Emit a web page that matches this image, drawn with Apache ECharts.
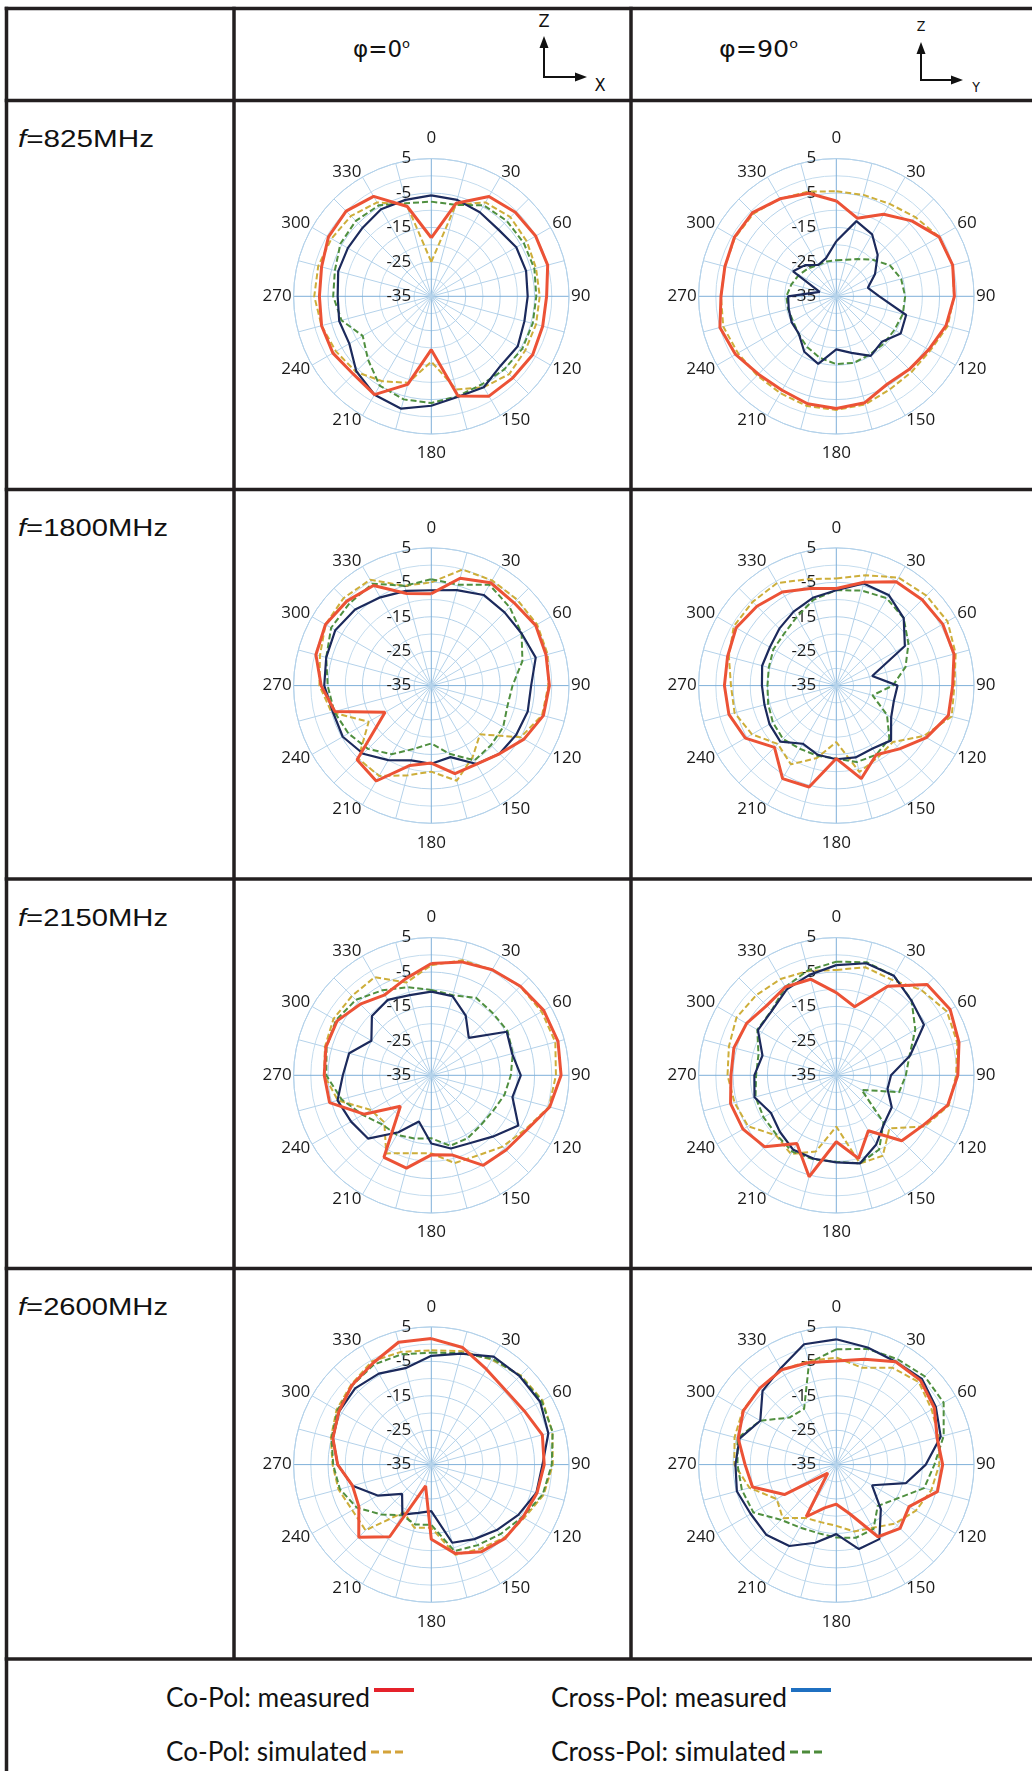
<!DOCTYPE html>
<html><head><meta charset="utf-8">
<script src="https://cdn.jsdelivr.net/npm/echarts@6/dist/echarts.min.js"></script>
<style>
html,body{margin:0;padding:0;background:#fff;width:1032px;height:1771px;overflow:hidden}
#frame{position:absolute;left:0;top:0}
#chart{position:absolute;left:0;top:0;width:1032px;height:1771px}
</style></head><body>
<svg id="frame" width="1032" height="1771" xmlns="http://www.w3.org/2000/svg"></svg>
<div id="chart"></div>
<script>
// ---------- data ----------
const angles = [0,15,30,45,60,75,90,105,120,135,150,165,180,195,210,225,240,255,270,285,300,315,330,345];
const angleLabels = ['0','30','60','90','120','150','180','210','240','270','300','330'];
const radialTicks = [-35,-25,-15,-5,5];
const rowLabels = ['825MHz','1800MHz','2150MHz','2600MHz'];
const colLabels = ['0','90'];
const legendNames = ['Co-Pol: measured','Cross-Pol: measured','Co-Pol: simulated','Cross-Pol: simulated'];

// f=825MHz, phi=0
const f825p0_coMeas   = [-18,-7,-1.5,-0.5,0,0,-1.5,-1.5,-1,-1.5,-1.5,-5,-19.5,-8.5,-2,-3,-2,-2,-2.5,-2,-0.5,0,-1.5,-8];
const f825p0_crossMeas= [-5.7,-6,-6.8,-7.5,-6.5,-6.5,-7,-7,-6,-6.5,-4.5,-4.8,-3.2,-1.2,-2,-4.2,-7.5,-7.3,-7.8,-7,-7,-6.8,-5.8,-6];
const f825p0_coSim    = [-25,-7.5,-3.5,-2.5,-3,-3.5,-3.5,-3.5,-3.5,-3,-4.5,-7,-16,-9,-6.5,-4,-3,-2,-1,-1,-1.5,-2,-3.5,-7.5];
const f825p0_crossSim = [-7.5,-7.5,-4.5,-4,-4,-4,-4.5,-4.5,-4.5,-5,-5.5,-5,-4,-4,-5,-9,-12,-8,-6.5,-6,-4.5,-4,-4.5,-7];
// f=825MHz, phi=90
const f825p90_coMeas   = [-7.3,-11.5,-7.5,-4,-0.5,0,-0.7,-2,-4,-5,-5.5,-3,-2.4,-2.7,-3.5,-3,-1.2,0,-1.5,-1.5,-0.8,-0.6,-2.3,-4];
const f825p90_crossMeas= [-19,-12.4,-14.2,-18,-22,-25.5,-22.5,-14,-13.4,-16.3,-15,-18,-19.6,-14.7,-16.4,-19.6,-20,-20.7,-21,-30,-20.5,-22.2,-24.5,-23.5];
const f825p90_coSim    = [-4.5,-4.5,-4,-2.5,-0.5,0,-0.8,-1.5,-3.5,-4,-3.8,-2.5,-2,-2,-2.5,-2.5,-2,-1,-1.5,-1.5,-1,-1,-2.3,-3.5];
const f825p90_crossSim = [-24.5,-24,-22.5,-20,-17,-15.5,-15,-15,-15.5,-15.5,-15.5,-15,-15.3,-16.5,-18,-19.5,-20.5,-20.5,-20.5,-21.5,-22.5,-23.5,-24.5,-24.5];
// f=1800MHz, phi=0
const f1800p0_coMeas   = [-8.3,-2.7,-0.5,-1,0,-0.5,-0.7,-1.3,-3.9,-7,-8.7,-8.5,-12.5,-11,-3,-4.5,-19.5,-6,-3,-0.3,0.5,-0.3,-1.4,-7.3];
const f1800p0_crossMeas= [-7.3,-6.3,-4.6,-4.9,-4.7,-3.6,-6,-6,-6.5,-7,-8.7,-13.5,-12.3,-12.5,-10,-7,-5.3,-5.4,-3.9,-3.4,-2.8,-3.7,-5.4,-6.5];
const f1800p0_coSim    = [-5,-0.1,0.3,0.3,0.5,0,-1,-1.7,-5,-15,-11,-6.4,-10,-8,-4.7,-5,-14,-5,-2.5,-1.5,0.5,1,0.5,-5];
const f1800p0_crossSim = [-4.1,-4.7,-1.2,-2.8,-4.7,-7.6,-11.4,-12.1,-10.9,-10.5,-9.9,-14.5,-18.2,-16,-12,-9,-7.2,-5.8,-4.9,-3.4,-1.4,-1.3,-0.8,-5];
// f=1800MHz, phi=90
const f1800p90_coMeas   = [-6.8,-3.9,-0.2,0.3,0.7,0.4,-1.2,-1.3,-4.8,-9,-11.8,-7,-13.8,-4.5,-3.8,-9.6,-4.5,-2.7,-2.5,-2.3,-1.4,-2.4,-3.6,-5.8];
const f1800p90_crossMeas= [-7.3,-4.3,-4.6,-7.3,-12,-24.2,-17.2,-17.7,-16.6,-12.5,-13.9,-13.4,-13.6,-14.2,-15.5,-12,-12.6,-13.4,-13.4,-12.7,-12.7,-11.6,-10.2,-8.6];
const f1800p90_coSim    = [-3.9,-1.8,1.2,2,2.3,0.9,-0.7,-0.3,-5.7,-11.8,-10.9,-9,-18.6,-13.2,-8.6,-11,-6.7,-4.4,-4.4,-2.7,-0.6,-0.6,-0.6,-3];
const f1800p90_crossSim = [-7.3,-6.4,-5.7,-7.3,-10.8,-14.2,-18.6,-24.1,-18,-13.2,-11.8,-12,-13.8,-13.9,-13.8,-13.1,-13.7,-14.5,-15,-14.7,-13.9,-13.6,-12,-9.2];
// f=2150MHz, phi=0
const f2150p0_coMeas   = [-2.5,-0.9,0.4,1.6,2.7,3.1,2.7,0.6,-3.1,-4.3,-4.8,-11,-11.9,-7.1,-7.5,-22.3,-12.4,-4.4,-3.9,-3.3,-3.4,-5.8,-8,-6];
const f2150p0_crossMeas= [-10.7,-11.2,-15,-19.6,-9.7,-10.7,-9,-10.6,-5.8,-9.8,-12.3,-13,-15.2,-21.1,-15.9,-9,-8.1,-6.8,-9.3,-10.3,-14.9,-10.6,-9.7,-10.9];
const f2150p0_coSim    = [-3,-0.4,0.4,1.5,2,2.3,1.2,0.4,-3.5,-5.7,-8.1,-8.6,-12.3,-11.6,-8.8,-15.7,-14.8,-6.9,-3.9,-3,-2.2,-2.4,-2.1,-7.1];
const f2150p0_crossSim = [-10.2,-10.9,-9,-9.6,-9.4,-10.5,-11.9,-13,-14.3,-14.6,-13.9,-13.8,-16.7,-16,-15,-14.8,-12,-8,-4.5,-3.5,-3,-4,-6.5,-8.5];
// f=2150MHz, phi=90
const f2150p90_coMeas   = [-11,-14.4,-5.1,2.3,3.2,1.9,0.3,-1.5,-5.9,-8.1,-16.4,-10,-15.7,-4.5,-12.1,-5.6,-3.7,-3.2,-4.4,-4.2,-4.9,-6.4,-5.4,-6.1];
const f2150p90_crossMeas= [-3,-1.3,-1.6,-4.2,-5.6,-12.8,-19.1,-19.6,-16.4,-15.3,-11.8,-8.5,-9.7,-9.9,-10,-11.8,-13.1,-10.4,-11.2,-12.8,-8.7,-8.5,-6.2,-4.8];
const f2150p90_coSim    = [-4.4,-2.5,-2.9,0,2.1,1.4,-0.2,-1.2,-5.3,-13.2,-8,-8.5,-20.1,-12.1,-8.6,-10.3,-5.4,-4.4,-3.4,-2.7,-1.5,-2.1,-2.7,-3.6];
const f2150p90_crossSim = [-2,-1,-1.6,-4.1,-8.5,-13,-14.8,-16.1,-26.5,-15.6,-10.1,-8.5,-9.9,-9.7,-9.4,-10.5,-10.6,-10.7,-11.7,-11.6,-8.5,-8.4,-5.4,-3.4];
// f=2600MHz, phi=0
const f2600p0_coMeas   = [1.6,0.2,-3,-4.5,-3.8,-1.6,-2.2,-3.2,-4.3,-4.7,-5.8,-8.3,-13.3,-28.6,-10.8,-5.2,-10.7,-11.3,-7.8,-5.4,-4,-2.4,-1,1.8];
const f2600p0_crossMeas= [-3.4,-1.6,1.2,1.3,1.5,0.2,-2.7,-3.4,-5.8,-8.1,-10,-11.5,-21.5,-20.5,-18.2,-23,-17,-11.3,-7.8,-5.4,-4.1,-3.7,-4.5,-6];
const f2600p0_coSim    = [-1.8,-0.9,0.2,1.7,2.3,1.4,0.3,-1.2,-3.9,-5,-6.7,-7.9,-16.7,-16,-19,-8,-8.5,-7.1,-6.3,-4.8,-3.2,-2.1,-0.4,-1.1];
const f2600p0_crossSim = [-2.5,-1.5,0.5,1.5,2,1.5,0,-1.5,-4.5,-6.5,-8,-9,-17.5,-17,-18,-14.5,-10,-7.5,-6.5,-5,-3.5,-2.5,-1.5,-1.8];
// f=2600MHz, phi=90
const f2600p90_coMeas   = [-4.9,-3.3,-0.5,-0.4,-2.1,-4.7,-4.1,-4.6,-10.6,-8.8,-10.8,-20.3,-23.5,-22,-17.5,-31.5,-17.6,-9.8,-8.5,-5.5,-3.8,-3.6,-3.2,-4.3];
const f2600p90_crossMeas= [1.4,0.2,-0.5,0.2,-1.6,-3.6,-9,-14.1,-23,-16.7,-10,-9.6,-14.8,-11.5,-7.7,-6.2,-6.3,-5.1,-5.7,-5.9,-9.5,-4.7,-2.7,1.2];
const f2600p90_coSim    = [-3.9,-5.9,-2.5,-1.1,-3,-4.2,-5.1,-6.4,-8.3,-10.8,-13.8,-14.9,-17.2,-17.7,-17.1,-13,-15,-8.9,-5.4,-4.4,-3.6,-3.6,-3.2,-3.9];
const f2600p90_crossSim = [-1.5,-0.2,0.4,1.3,1,-2.7,-6.5,-8.6,-15,-18,-13.4,-13,-13.8,-14.4,-13.9,-12.3,-7.2,-6.6,-6.3,-5.3,-9.5,-15.7,-16.3,-4.4];

// ---------- layout ----------
const panels = [
  [f825p0_coMeas, f825p0_crossMeas, f825p0_coSim, f825p0_crossSim],
  [f825p90_coMeas, f825p90_crossMeas, f825p90_coSim, f825p90_crossSim],
  [f1800p0_coMeas, f1800p0_crossMeas, f1800p0_coSim, f1800p0_crossSim],
  [f1800p90_coMeas, f1800p90_crossMeas, f1800p90_coSim, f1800p90_crossSim],
  [f2150p0_coMeas, f2150p0_crossMeas, f2150p0_coSim, f2150p0_crossSim],
  [f2150p90_coMeas, f2150p90_crossMeas, f2150p90_coSim, f2150p90_crossSim],
  [f2600p0_coMeas, f2600p0_crossMeas, f2600p0_coSim, f2600p0_crossSim],
  [f2600p90_coMeas, f2600p90_crossMeas, f2600p90_coSim, f2600p90_crossSim]
];
const colX = [431.3, 836.3];
const rowY = [296.3, 685.6, 1075.3, 1464.6];
const R = 137.7;
const rowLines = [8.5, 100.5, 489.5, 879, 1268.5, 1659];

// ---------- table & texts (SVG) ----------
const NS = 'http://www.w3.org/2000/svg';
const svg = document.getElementById('frame');
function el(tag, attrs, text) {
  const e = document.createElementNS(NS, tag);
  for (const k in attrs) e.setAttribute(k, attrs[k]);
  if (text !== undefined) e.textContent = text;
  svg.appendChild(e); return e;
}
const lc = '#231f20', lw = 3.5;
rowLines.forEach(y => el('line', {x1: 4.7, y1: y, x2: 1032, y2: y, stroke: lc, 'stroke-width': lw}));
el('line', {x1: 6.5, y1: 6.7, x2: 6.5, y2: 1771, stroke: lc, 'stroke-width': lw});
[234, 631].forEach(x => el('line', {x1: x, y1: 6.7, x2: x, y2: 1659, stroke: lc, 'stroke-width': lw}));

// header
const narrow = '"Liberation Sans Narrow","Arial Narrow","DejaVu Sans Condensed",sans-serif';
const hdr = [{x: 353, w: 57}, {x: 719, w: 79}];
colLabels.forEach((c, i) => {
  const t = el('text', {x: hdr[i].x, y: 57, 'font-family': narrow, 'font-size': 23, fill: '#111', textLength: hdr[i].w, lengthAdjust: 'spacingAndGlyphs'});
  const a = document.createElementNS(NS, 'tspan'); a.textContent = 'φ=' + c; t.appendChild(a);
  const b = document.createElementNS(NS, 'tspan'); b.setAttribute('dy', -9); b.setAttribute('font-size', 13); b.textContent = 'o'; t.appendChild(b);
});
// axes icons
function icon(x0, yTop, yCorner, xTip, up, right, zY, zSize, rX, rY, rSize) {
  el('text', {x: x0, y: zY, 'text-anchor': 'middle', 'font-family': narrow, 'font-size': zSize, fill: '#111'}, up);
  el('polygon', {points: `${x0},${yTop} ${x0-4.5},${yTop+12} ${x0+4.5},${yTop+12}`, fill: '#111'});
  el('polyline', {points: `${x0},${yTop+10} ${x0},${yCorner} ${xTip-11},${yCorner}`, fill: 'none', stroke: '#111', 'stroke-width': 2});
  el('polygon', {points: `${xTip},${yCorner} ${xTip-12},${yCorner-4.5} ${xTip-12},${yCorner+4.5}`, fill: '#111'});
  el('text', {x: rX, y: rY, 'text-anchor': 'middle', 'font-family': narrow, 'font-size': rSize, fill: '#111'}, right);
}
icon(544, 36, 77, 587, 'Z', 'X', 27, 18, 600, 91, 18);
icon(921, 42, 80, 963, 'Z', 'Y', 31, 14, 976, 92, 14);

// row labels
const rowTextW = [136, 150, 150, 150];
rowLabels.forEach((r, i) => {
  const t = el('text', {x: 18, y: 146.5 + i * 389.5, 'font-family': '"Liberation Sans",Arial,sans-serif', 'font-size': 24, fill: '#111', textLength: rowTextW[i], lengthAdjust: 'spacingAndGlyphs'});
  const a = document.createElementNS(NS, 'tspan'); a.setAttribute('font-style', 'italic'); a.textContent = 'f'; t.appendChild(a);
  const b = document.createElementNS(NS, 'tspan'); b.textContent = '=' + r; t.appendChild(b);
});

// legend
const legX = [166, 551, 166, 551];
const legY = [1707, 1707, 1761, 1761];
const legW = [204, 236, 201, 235];
const legColor = ['#e5222b', '#1f70c1', '#d4a33a', '#4c8b3b'];
legendNames.forEach((n, i) => {
  el('text', {x: legX[i], y: legY[i], 'font-family': 'Lato,"Open Sans",sans-serif', 'font-size': 27, fill: '#111', textLength: legW[i], lengthAdjust: 'spacingAndGlyphs'}, n);
  const x1 = legX[i] + legW[i] + 4;
  if (i < 2) {
    el('line', {x1: x1, y1: legY[i] - 17, x2: x1 + 40, y2: legY[i] - 17, stroke: legColor[i], 'stroke-width': 4});
  } else {
    el('line', {x1: x1, y1: legY[i] - 9, x2: x1 + 36, y2: legY[i] - 9, stroke: legColor[i], 'stroke-width': 3, 'stroke-dasharray': '8 4'});
  }
});

// ---------- ECharts ----------
const chart = echarts.init(document.getElementById('chart'), null, {renderer: 'canvas'});
const polar = [], angleAxis = [], radiusAxis = [], series = [];
const grid = '#b4d2ea', gridDark = '#7fb0d9';
const lblFont = '"Open Sans",sans-serif';
const styles = [
  {color: '#ec5236', width: 3, type: 'solid', z: 5},
  {color: '#1c2a5c', width: 2.2, type: 'solid', z: 4},
  {color: '#cdae3a', width: 2, type: [6, 3], z: 2},
  {color: '#4f8f3f', width: 2, type: [6, 3], z: 3}
];
const richAngle = {
  d: {fontFamily: lblFont, fontSize: 17, color: '#1a1a1a', lineHeight: 6},
  t: {fontFamily: lblFont, fontSize: 17, color: '#1a1a1a', lineHeight: 36},
  b: {fontFamily: lblFont, fontSize: 17, color: '#1a1a1a', lineHeight: 35}
};
function angleFmt(v) {
  const s = String(v);
  if (v >= 360 || angleLabels.indexOf(s) < 0) return '';
  if (v === 0) return '{t|' + s + '}';
  if (v === 180) return '{b|' + s + '}';
  return '{d|' + s + '}';
}
panels.forEach((p, i) => {
  const cx = colX[i % 2], cy = rowY[Math.floor(i / 2)];
  polar.push({center: [cx, cy], radius: R});
  angleAxis.push({
    polarIndex: i, type: 'value', min: 0, max: 360, interval: 15, startAngle: 90, clockwise: true,
    axisLine: {show: true, lineStyle: {color: grid, width: 1}},
    axisTick: {show: false},
    axisLabel: {margin: 2, fontFamily: lblFont, fontSize: 17, color: '#1a1a1a', formatter: angleFmt, rich: richAngle},
    splitLine: {show: true, lineStyle: {color: [gridDark, grid, grid, grid, grid, grid], width: 1}}
  });
  radiusAxis.push({
    polarIndex: i, type: 'value', min: radialTicks[0], max: radialTicks[radialTicks.length - 1], interval: 10,
    axisLine: {show: false}, axisTick: {show: false},
    axisLabel: {margin: 20, fontFamily: lblFont, fontSize: 17, color: '#1a1a1a'},
    splitLine: {show: true, lineStyle: {color: grid, width: 1}},
    minorTick: {show: false, splitNumber: 2},
    minorSplitLine: {show: true, lineStyle: {color: '#c4dcee', width: 1}}
  });
  [2, 3, 1, 0].forEach(k => {
    const vals = p[k];
    const data = vals.map((v, j) => [v, angles[j]]);
    data.push([vals[0], 360]);
    series.push({
      type: 'line', coordinateSystem: 'polar', polarIndex: i, name: legendNames[k],
      symbol: 'none', silent: true, z: styles[k].z,
      lineStyle: {color: styles[k].color, width: styles[k].width, type: styles[k].type},
      data: data
    });
  });
});
chart.setOption({animation: false, polar, angleAxis, radiusAxis, series});
</script>
</body></html>
